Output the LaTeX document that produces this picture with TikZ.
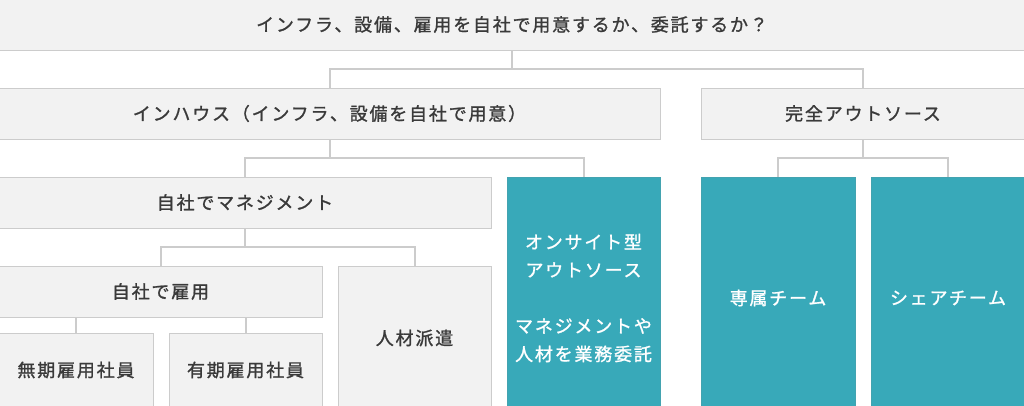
\documentclass[tikz,border=0pt]{standalone}
\usepackage{fontspec}
\newfontfamily\jp[LetterSpace=10,FakeBold=1.2]{Noto Sans CJK JP}
\definecolor{boxgray}{HTML}{F2F2F2}
\definecolor{linegray}{HTML}{CCCCCC}
\definecolor{labelgray}{HTML}{3A3A3A}
\definecolor{outteal}{HTML}{38A9B9}
\tikzset{
  graybox/.style={draw=linegray, fill=boxgray, inner sep=0pt, text=labelgray,
    font=\jp\fontsize{18}{20}\selectfont},
  tealbox/.style={draw=outteal!85!gray, fill=outteal, inner sep=0pt, text=white,
    align=center, font=\jp\fontsize{18}{28}\selectfont},
  conn/.style={draw=linegray, line width=2pt},
}
\begin{document}
\begin{tikzpicture}[x=1pt,y=-1pt]
      \useasboundingbox (0,0) rectangle (1024,406);
      % boxes
      \node[graybox, minimum width=1026pt, minimum height=51pt] (title) at (512,24.5) {インフラ、設備、雇用を自社で用意するか、委託するか？};
      \node[graybox, minimum width=661pt, minimum height=51pt] (inhouse) at (329.5,113.5) {インハウス（インフラ、設備を自社で用意）};
      \node[graybox, minimum width=324pt, minimum height=51pt] (fullout) at (863,113.5) {完全アウトソース};
      \node[graybox, minimum width=492pt, minimum height=51pt] (mgmt) at (245,202.5) {自社でマネジメント};
      \node[tealbox, minimum width=153pt, minimum height=242pt] (onsite) at (583.5,298) {オンサイト型\\アウトソース\\[28pt]マネジメントや\\人材を業務委託};
      \node[tealbox, minimum width=154pt, minimum height=242pt] (senzoku) at (778,298) {専属チーム};
      \node[tealbox, minimum width=154pt, minimum height=242pt] (share) at (948,298) {シェアチーム};
      \node[graybox, minimum width=323pt, minimum height=51pt] (koyo) at (160.5,291.5) {自社で雇用};
      \node[graybox, minimum width=153pt, minimum height=144pt] (haken) at (414.5,338) {人材派遣};
      \node[graybox, minimum width=154pt, minimum height=74pt] (muki) at (76,370) {無期雇用社員};
      \node[graybox, minimum width=153pt, minimum height=74pt] (yuki) at (245.5,370) {有期雇用社員};
      % connectors
      \coordinate (j1) at ([yshift=-19pt]title.south);
      \coordinate (j2) at ([yshift=-19pt]inhouse.south);
      \coordinate (j3) at ([yshift=-19pt]fullout.south);
      \coordinate (j4) at ([yshift=-19pt]mgmt.south);
      \draw[conn] (title.south) -- (j1);
      \draw[conn] (inhouse.north) |- (j1) -| (fullout.north);
      \draw[conn] (inhouse.south) -- (j2);
      \draw[conn] (mgmt.north) |- (j2) -| (onsite.north);
      \draw[conn] (fullout.south) -- (j3);
      \draw[conn] (senzoku.north) |- (j3) -| (share.north);
      \draw[conn] (mgmt.south) -- (j4);
      \draw[conn] (koyo.north) |- (j4) -| (haken.north);
      \draw[conn] (muki.north) -- (muki.north |- koyo.south);
      \draw[conn] (yuki.north) -- (yuki.north |- koyo.south);
    \end{tikzpicture}
\end{document}
